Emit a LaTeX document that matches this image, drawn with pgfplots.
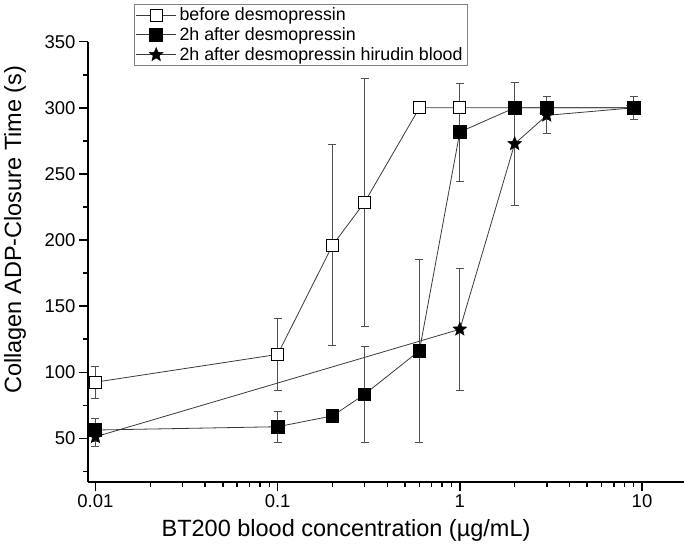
\documentclass[border=0pt]{standalone}
\usepackage{pgfplots}
\pgfplotsset{compat=1.18}
\usepackage{fontspec}
\setmainfont{Liberation Sans}
\definecolor{ln}{HTML}{3A3A3A}
\definecolor{eb}{HTML}{505050}
\pgfdeclareplotmark{fstar}{%
 \pgfpathmoveto{\pgfpointpolar{90}{\pgfplotmarksize}}%
 \pgfpathlineto{\pgfpointpolar{126}{0.44\pgfplotmarksize}}%
 \pgfpathlineto{\pgfpointpolar{162}{\pgfplotmarksize}}%
 \pgfpathlineto{\pgfpointpolar{198}{0.44\pgfplotmarksize}}%
 \pgfpathlineto{\pgfpointpolar{234}{\pgfplotmarksize}}%
 \pgfpathlineto{\pgfpointpolar{270}{0.44\pgfplotmarksize}}%
 \pgfpathlineto{\pgfpointpolar{306}{\pgfplotmarksize}}%
 \pgfpathlineto{\pgfpointpolar{342}{0.44\pgfplotmarksize}}%
 \pgfpathlineto{\pgfpointpolar{18}{\pgfplotmarksize}}%
 \pgfpathlineto{\pgfpointpolar{54}{0.44\pgfplotmarksize}}%
 \pgfpathclose\pgfusepathqfillstroke}
\begin{document}
\begin{tikzpicture}
\begin{axis}[
 scale only axis, width=596pt, height=440.3pt,
 xmode=log, xmin=0.0091, xmax=17, ymin=17, ymax=350,
 axis x line*=bottom, axis y line*=left,
 axis line style={line width=1.8pt, -},
 tick align=outside,
 xtick={0.01,0.1,1,10}, xticklabels={0.01,0.1,1,10},
 minor xtick={0.02,0.03,0.04,0.05,0.06,0.07,0.08,0.09,0.2,0.3,0.4,0.5,0.6,0.7,0.8,0.9,2,3,4,5,6,7,8,9},
 ytick={50,100,150,200,250,300,350}, minor ytick={25,75,125,175,225,275,325},
 major tick length=9pt, minor tick length=5pt,
 every tick/.style={line width=1.5pt, black},
 tick label style={font=\fontsize{18.5}{20}\selectfont},
 /pgf/number format/assume math mode=true,
 xlabel={BT200 blood concentration (µg/mL)},
 ylabel={Collagen ADP-Closure Time (s)},
 xlabel style={at={(axis description cs:0.433,-0.109)}, anchor=center, font=\fontsize{23.5}{26}\selectfont},
 ylabel style={at={(axis description cs:-0.1225,0.573)}, anchor=center, font=\fontsize{23.5}{26}\selectfont},
 legend style={at={(axis description cs:0.077,1.086)}, anchor=north west, draw=gray, line width=0.8pt,
   font=\fontsize{17.8}{20}\selectfont, cells={anchor=west}, row sep=1.5pt, inner sep=1.5pt,
   nodes={inner xsep=3pt}},
 legend image code/.code={\draw[mark repeat=2,mark phase=2,#1] plot coordinates {(0pt,0pt) (20pt,0pt) (40pt,0pt)};},
 error bars/y dir=both, error bars/y explicit,
 error bars/error bar style={eb, line width=0.8pt},
 error bars/error mark options={eb, rotate=90, mark size=4pt, line width=0.8pt},
]
\addplot[ln, line width=0.8pt, mark=square*, mark size=6pt, mark options={fill=white, draw=black, line width=0.8pt}]
 table[x=x, y=y, y error=e] {
 x y e
 0.01 92.5 12
 0.1 113.5 27
 0.2 196 76
 0.3 228.5 94
 0.6 300 0
 1 300 0
 2 300 0
 3 300 0
 9 300 0
};
\addlegendentry{before desmopressin}
\addplot[ln, line width=0.8pt, mark=square*, mark size=6.3pt, mark options={fill=black, draw=black}]
 table[x=x, y=y, y error=e] {
 x y e
 0.01 56.3 8.5
 0.1 58.8 11.5
 0.2 67 0
 0.3 83.3 36.5
 0.6 116.3 69
 1 281.7 37
 2 300 0
 3 300 9
 9 300 8.5
};
\addlegendentry{2h after desmopressin}
\addplot[ln, line width=0.8pt, mark=fstar, mark size=7.3pt, mark options={fill=black, draw=black, line width=0.4pt}]
 table[x=x, y=y, y error=e] {
 x y e
 0.01 51.2 7
 1 132.5 46
 2 272.8 46.5
 3 294.3 14
 9 300 0
};
\addlegendentry{2h after desmopressin hirudin blood}
\end{axis}
\pgfresetboundingbox
\path ([shift={(-88pt,-62pt)}]current axis.south west) rectangle ([shift={(1pt,41.7pt)}]current axis.north east);
\end{tikzpicture}
\end{document}
